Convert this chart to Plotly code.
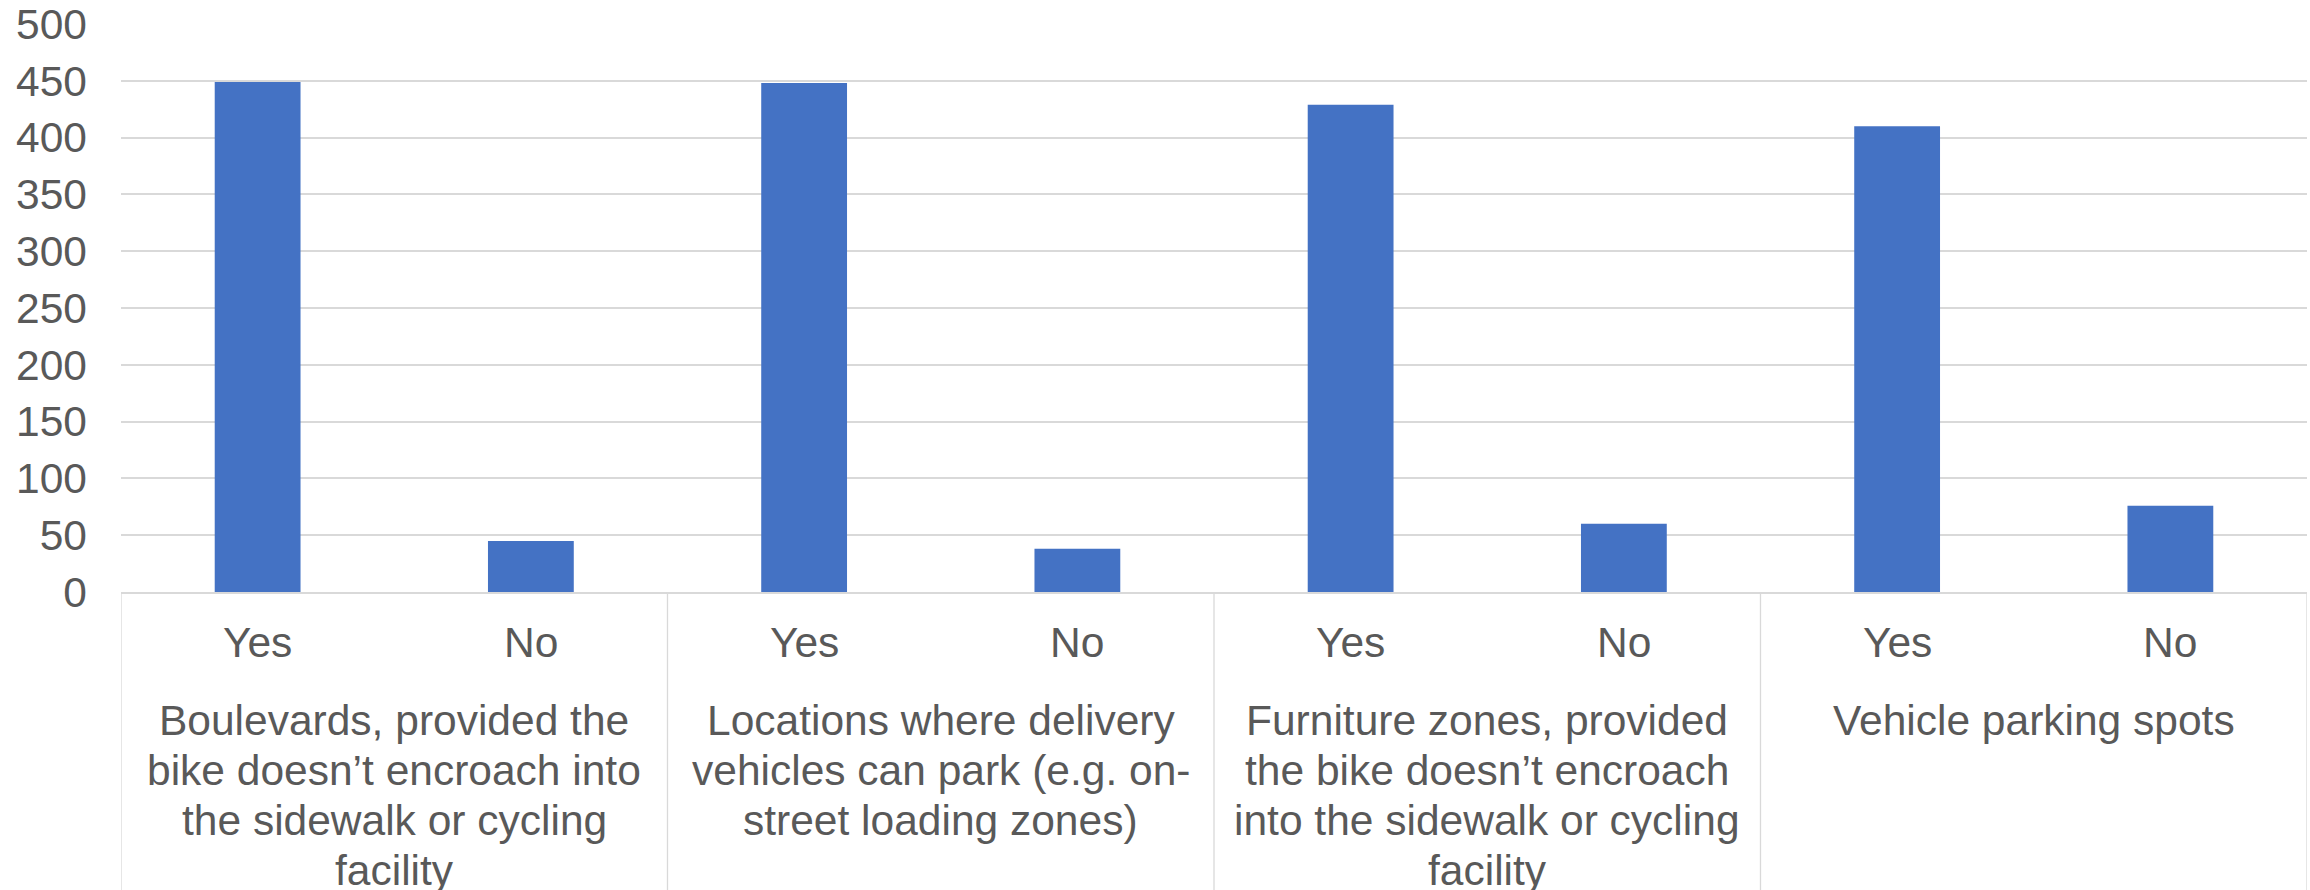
import plotly.graph_objects as go

# ---- data ----
group_labels = [
    "Boulevards, provided the\nbike doesn’t encroach into\nthe sidewalk or cycling\nfacility",
    "Locations where delivery\nvehicles can park (e.g. on-\nstreet loading zones)",
    "Furniture zones, provided\nthe bike doesn’t encroach\ninto the sidewalk or cycling\nfacility",
    "Vehicle parking spots",
]
answers = ["Yes", "No"]
counts = [449, 45, 448, 38, 429, 60, 410, 76]
y_ticks = [0, 50, 100, 150, 200, 250, 300, 350, 400, 450, 500]

# ---- layout constants ----
W, H = 2310, 890
ML, MR, MT, MB = 121, 3, 24, 298
PLOT_H = H - MT - MB
FONT = "Liberation Sans, Arial, sans-serif"
TXT = "#595959"
GRID = "#D9D9D9"
FS = 42.5


def paper_y(pix):
    return (H - MB - pix) / PLOT_H


n_sub = len(answers)
sub_labels = [a for _ in group_labels for a in answers]
xpos = list(range(len(sub_labels)))

fig = go.Figure()
fig.add_trace(go.Bar(
    x=xpos, y=counts,
    marker=dict(color="#4472C4", line=dict(width=0)),
    width=0.314,
    hoverinfo="y",
))

annotations = []
# sub labels (Yes / No)
for x, lab in zip(xpos, sub_labels):
    annotations.append(dict(
        x=x, xref="x", y=paper_y(642), yref="paper", text=lab,
        showarrow=False, xanchor="center", yanchor="middle",
        font=dict(family=FONT, size=FS, color=TXT),
    ))
# group labels, line by line
line_step = 50
for g, lab in enumerate(group_labels):
    cx = g * n_sub + (n_sub - 1) / 2
    for i, line in enumerate(lab.split("\n")):
        annotations.append(dict(
            x=cx, xref="x", y=paper_y(720 + i * line_step), yref="paper", text=line,
            showarrow=False, xanchor="center", yanchor="middle",
            font=dict(family=FONT, size=FS, color=TXT),
        ))

shapes = []
for g in range(len(group_labels) + 1):
    xv = g * n_sub - 0.5
    shapes.append(dict(
        type="line", xref="x", yref="paper", x0=xv, x1=xv,
        y0=0, y1=paper_y(H), line=dict(color=GRID, width=1.3),
    ))

fig.update_layout(
    width=W, height=H,
    margin=dict(l=ML, r=MR, t=MT, b=MB, pad=0, autoexpand=False),
    paper_bgcolor="white", plot_bgcolor="white",
    showlegend=False,
    annotations=annotations,
    shapes=shapes,
    font=dict(family=FONT, size=FS, color=TXT),
)
fig.update_xaxes(
    range=[-0.5, len(xpos) - 0.5], automargin=False,
    showticklabels=False, showgrid=False, zeroline=False,
    showline=True, linecolor=GRID, linewidth=2, ticks="",
)
fig.update_yaxes(
    range=[0, 500], tickvals=y_ticks, automargin=False,
    showgrid=True, gridcolor=GRID, gridwidth=2,
    zeroline=False, showline=False, ticks="",
    tickfont=dict(family=FONT, size=FS, color=TXT),
    ticklabelstandoff=33,
)

fig.write_html(
    "out.html",
    config={"displayModeBar": False},
    post_script="document.body.style.margin='0';document.body.style.overflow='hidden';",
)
